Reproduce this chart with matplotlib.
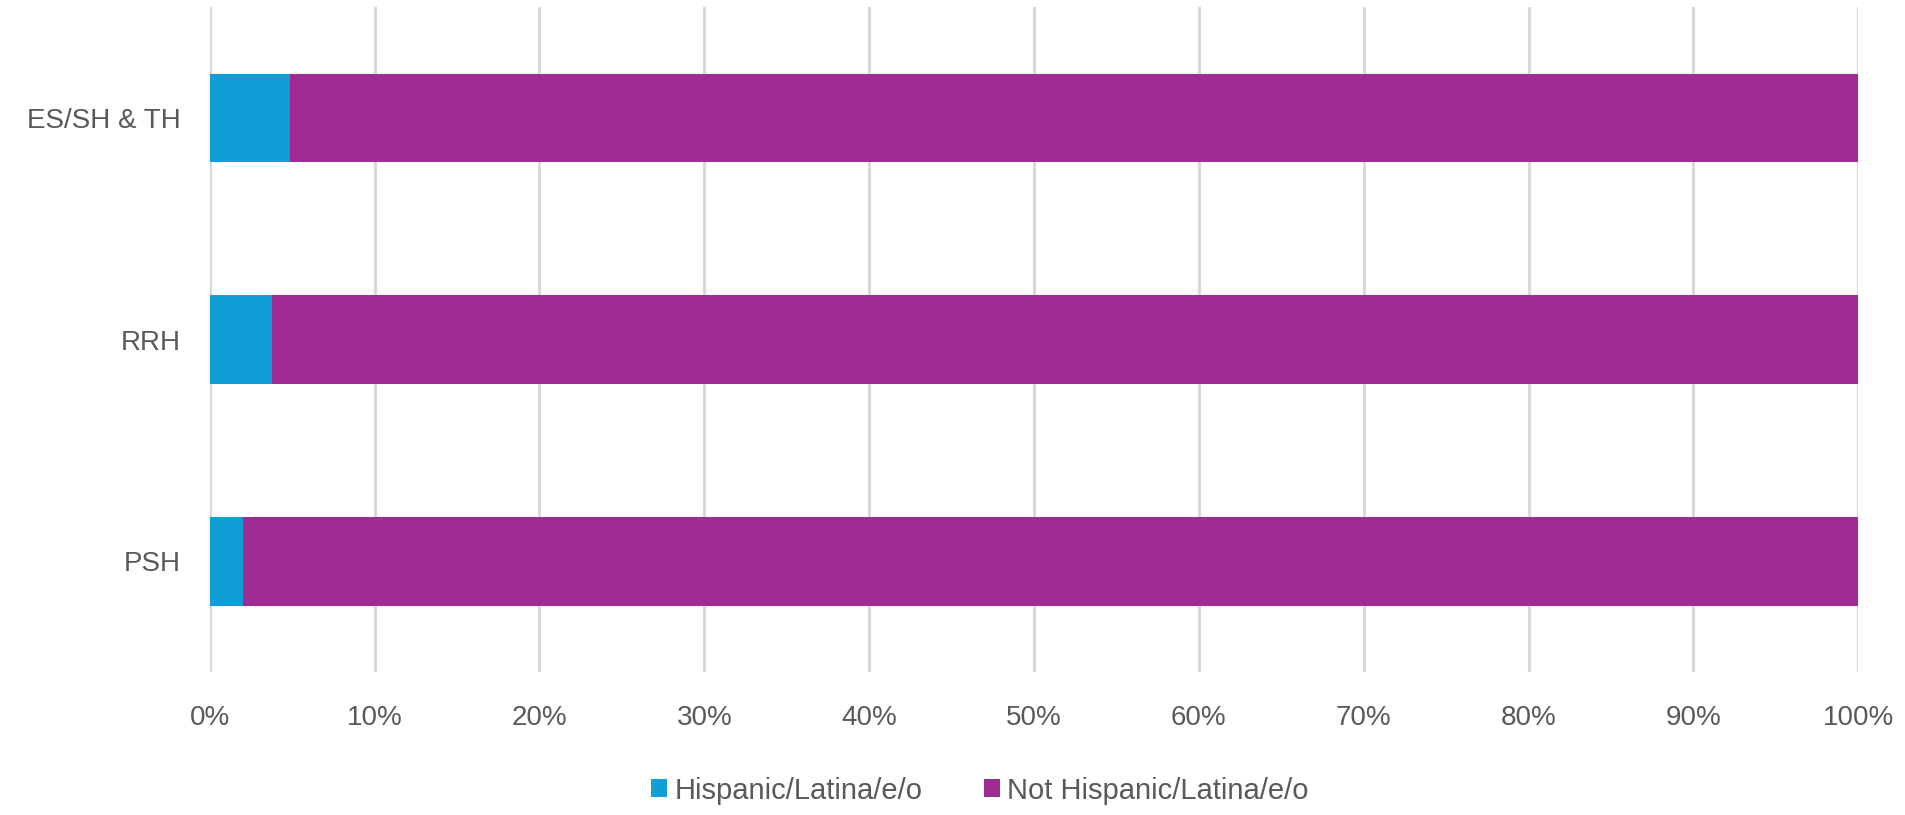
import matplotlib.pyplot as plt
import numpy as np
from matplotlib.ticker import PercentFormatter

# Data (share of people, %)
categories = ["ES/SH & TH", "RRH", "PSH"]
hispanic = [4.9, 3.8, 2.0]
not_hispanic = [100 - v for v in hispanic]
series_labels = ["Hispanic/Latina/e/o", "Not Hispanic/Latina/e/o"]
colors = ["#0F9ED5", "#A02B93"]

text_color = "#595959"
plt.rcParams["font.family"] = ["Liberation Sans", "DejaVu Sans"]

fig = plt.figure(figsize=(19.06, 8.15), dpi=100)
ax = fig.add_axes([0.110, 0.1755, 0.865, 0.8155])

y = np.arange(len(categories))
ax.barh(y, hispanic, height=0.4, color=colors[0], label=series_labels[0], zorder=3)
ax.barh(y, not_hispanic, left=hispanic, height=0.4, color=colors[1],
        label=series_labels[1], zorder=3)

ax.set_xlim(0, 100)
ax.set_ylim(len(categories) - 0.5, -0.5)
ax.set_xticks(np.arange(0, 101, 10))
ax.xaxis.set_major_formatter(PercentFormatter(decimals=0))
ax.set_yticks(y)
ax.set_yticklabels(categories)

ax.grid(axis="x", color="#D9D9D9", linewidth=2.2, zorder=0)
for side in ax.spines.values():
    side.set_visible(False)
ax.tick_params(axis="both", length=0, labelsize=20, colors=text_color)
ax.tick_params(axis="x", pad=24)
ax.tick_params(axis="y", pad=21)

leg = fig.legend(loc="center", bbox_to_anchor=(0.514, 0.03), ncol=2, frameon=False,
                 handlelength=0.55, handleheight=0.55, handletextpad=0.25, columnspacing=2.1,
                 prop={"size": 21})
for t in leg.get_texts():
    t.set_color(text_color)

fig.savefig("out.png", dpi=100)
